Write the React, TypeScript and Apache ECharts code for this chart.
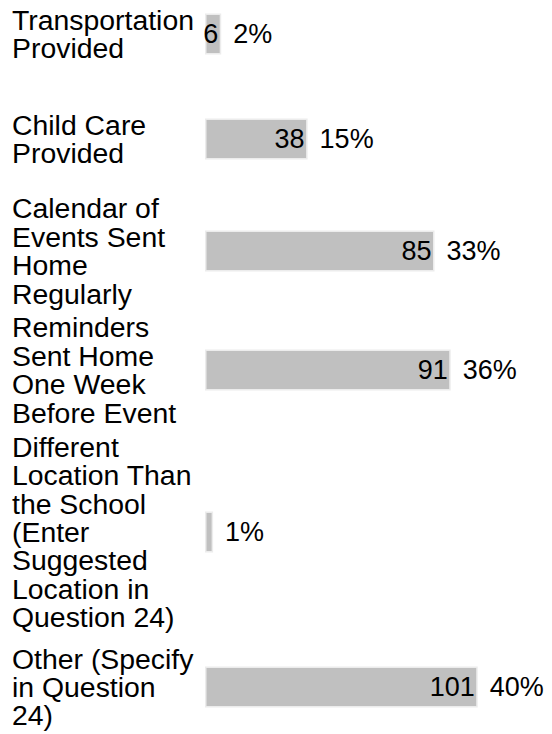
import React, { useEffect, useRef } from "react";
import * as echarts from "echarts";

// ---- data ----
const CATEGORIES: string[] = [
  "Transportation Provided",
  "Child Care Provided",
  "Calendar of Events Sent Home Regularly",
  "Reminders Sent Home One Week Before Event",
  "Different Location Than the School (Enter Suggested Location in Question 24)",
  "Other (Specify in Question 24)",
];
const COUNTS: number[] = [6, 38, 85, 91, 3, 101];
const PERCENT_LABELS: string[] = ["2%", "15%", "33%", "36%", "1%", "40%"];
const HIDE_COUNT_LABEL: boolean[] = [false, false, false, false, true, false];

// ---- layout ----
const W = 552;
const H = 734;
const PLOT_LEFT = 205;
const PLOT_WIDTH = 324;
const AXIS_MAX = 120;
const BAR_H = 41;
const FIRST_CENTER = 34;
const ROW_HEIGHTS = [105, 105, 119, 119, 205, 105];
const LABEL_X = 12;
const LABEL_WRAP_WIDTH = 190;
const LABEL_FONT_SIZE = 28.4;
const LABEL_LINE_HEIGHT = 28.4;
const FONT = "'Liberation Sans', Arial, sans-serif";

function wrapWords(text: string, maxWidth: number, font: string): string {
  const canvas = document.createElement("canvas");
  const ctx = canvas.getContext("2d");
  if (!ctx) return text;
  ctx.font = font;
  const words = text.split(" ");
  const lines: string[] = [];
  let cur = "";
  words.forEach((w) => {
    const trial = cur ? cur + " " + w : w;
    if (!cur || ctx.measureText(trial).width <= maxWidth) {
      cur = trial;
    } else {
      lines.push(cur);
      cur = w;
    }
  });
  if (cur) lines.push(cur);
  return lines.join("\n");
}

export default function App() {
  const ref = useRef<HTMLDivElement>(null);

  useEffect(() => {
    if (!ref.current) return;
    const chart = echarts.init(ref.current, undefined, { renderer: "svg" });

    const centers: number[] = [];
    let c = FIRST_CENTER;
    ROW_HEIGHTS.forEach((h, i) => {
      if (i > 0) c += (ROW_HEIGHTS[i - 1] + h) / 2;
      centers.push(c);
    });

    const labelFont = `${LABEL_FONT_SIZE}px 'Liberation Sans', Arial, sans-serif`;

    const grids: any[] = [];
    const xAxes: any[] = [];
    const yAxes: any[] = [];
    const series: any[] = [];

    CATEGORIES.forEach((cat, i) => {
      grids.push({
        left: PLOT_LEFT,
        width: PLOT_WIDTH,
        top: centers[i] - BAR_H / 2,
        height: BAR_H,
        containLabel: false,
      });
      xAxes.push({
        gridIndex: i,
        type: "value",
        min: 0,
        max: AXIS_MAX,
        show: false,
      });
      yAxes.push({
        gridIndex: i,
        type: "category",
        data: [cat],
        axisLine: { show: false },
        axisTick: { show: false },
        splitLine: { show: false },
        axisLabel: {
          show: true,
          align: "left",
          margin: PLOT_LEFT - LABEL_X,
          fontSize: LABEL_FONT_SIZE,
          lineHeight: LABEL_LINE_HEIGHT,
          fontFamily: FONT,
          color: "#000000",
          padding: [3, 0, 0, 0],
          formatter: (v: string) => wrapWords(v, LABEL_WRAP_WIDTH, labelFont),
        },
      });
      series.push({
        type: "bar",
        xAxisIndex: i,
        yAxisIndex: i,
        barWidth: "100%",
        barGap: "-100%",
        silent: true,
        itemStyle: {
          color: "#c0c0c0",
          borderColor: "#ececec",
          borderWidth: 1.5,
        },
        label: {
          show: !HIDE_COUNT_LABEL[i],
          position: "insideRight",
          distance: 3,
          fontSize: 27,
          fontFamily: FONT,
          color: "#000000",
        },
        data: [COUNTS[i]],
      });
      series.push({
        type: "bar",
        xAxisIndex: i,
        yAxisIndex: i,
        barWidth: "100%",
        barGap: "-100%",
        silent: true,
        itemStyle: { color: "rgba(0,0,0,0)", borderWidth: 0 },
        label: {
          show: true,
          position: "right",
          distance: 12,
          fontSize: 27,
          fontFamily: FONT,
          color: "#000000",
          formatter: () => PERCENT_LABELS[i],
        },
        data: [COUNTS[i]],
      });
    });

    chart.setOption({
      animation: false,
      backgroundColor: "#ffffff",
      grid: grids,
      xAxis: xAxes,
      yAxis: yAxes,
      series,
    });

    return () => chart.dispose();
  }, []);

  return (
    <div
      ref={ref}
      style={{ position: "fixed", left: 0, top: 0, width: W, height: H, background: "#fff" }}
    />
  );
}
